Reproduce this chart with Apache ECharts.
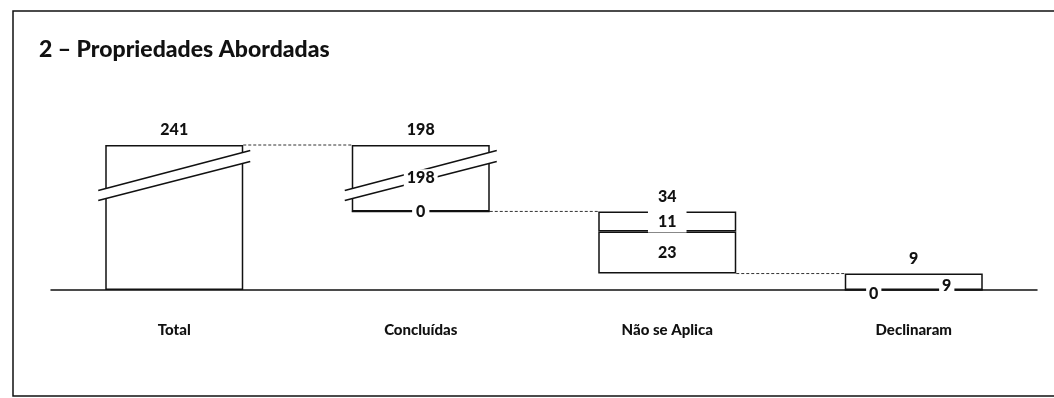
<!doctype html>
<html lang="pt-br">

<head>
	<meta charset="utf-8">
	<script src="https://cdn.jsdelivr.net/npm/echarts@6.0.0/dist/echarts.min.js"></script>
	<style>
		html, body { margin: 0; padding: 0; background: #fff; }
	</style>
</head>

<body>
	<div id="container" style="width:1054px;height:398px;"></div>
	<script>
		// dados
		var categories = ['Total', 'Concluídas', 'Não se Aplica', 'Declinaram'];
		var totals = [241, 198, 34, 9];
		var baseValues = [0, 43, 9, 0];
		var lowerPart = [241, 0, 23, 0];
		var upperPart = ['-', 198, 11, 9];
		// barras cortadas (indice, base, topo, rotulo)
		var brokenBars = [[0, 0, 241, ''], [1, 43, 241, '198']];
		// ligações entre as barras (indice de origem, nivel)
		var connectors = [[0, 241], [1, 43], [2, 9]];

		var font = 'Lato';
		var weight = 900;
		var ink = '#111';
		var halfBar = 69;

		// posição das marcas de corte, em valores do eixo
		var cutLow = [49, 232];
		var cutHigh = [54.5, 238];

		function renderBreak(params, api) {
			var idx = api.value(0);
			var left = api.coord([idx, 0])[0] - halfBar - 7;
			var right = api.coord([idx, 0])[0] + halfBar + 7;
			var lowL = [left, api.coord([idx, cutLow[0]])[1]];
			var lowR = [right, api.coord([idx, cutLow[1]])[1]];
			var highL = [left, api.coord([idx, cutHigh[0]])[1]];
			var highR = [right, api.coord([idx, cutHigh[1]])[1]];
			var children = [
				{
					type: 'polygon',
					shape: { points: [lowL, lowR, highR, highL] },
					style: { fill: '#fff', stroke: null }
				},
				{
					type: 'line',
					shape: { x1: lowL[0], y1: lowL[1], x2: lowR[0], y2: lowR[1] },
					style: { stroke: ink, lineWidth: 1.5 }
				},
				{
					type: 'line',
					shape: { x1: highL[0], y1: highL[1], x2: highR[0], y2: highR[1] },
					style: { stroke: ink, lineWidth: 1.5 }
				}
			];
			var lbl = brokenBars[params.dataIndex][3];
			if (lbl) {
				var yb = api.coord([idx, api.value(1)])[1];
				var yt = api.coord([idx, api.value(2)])[1];
				children.push({
					type: 'text',
					z2: 10,
					style: {
						text: lbl,
						x: api.coord([idx, 0])[0],
						y: (yb + yt) / 2,
						align: 'center',
						verticalAlign: 'middle',
						font: weight + ' 16px ' + font,
						fill: ink,
						backgroundColor: '#fff',
						padding: [1, 3]
					}
				});
			}
			return { type: 'group', children: children };
		}

		function renderConnector(params, api) {
			var idx = api.value(0);
			var v = api.value(1);
			var a = api.coord([idx, v]);
			var b = api.coord([idx + 1, v]);
			return {
				type: 'line',
				shape: { x1: a[0] + halfBar, y1: a[1], x2: b[0] - halfBar, y2: b[1] },
				style: { stroke: '#333', lineWidth: 1, lineDash: [3, 2] }
			};
		}

		var labelBase = {
			show: true,
			fontFamily: font,
			fontWeight: weight,
			fontSize: 16,
			color: ink
		};

		function lowerLabel(i) {
			var l = Object.assign({}, labelBase, { position: 'inside' });
			if (i === 0) { l.show = false; }
			if (i === 1) { l.backgroundColor = '#fff'; l.padding = [0, 4]; }
			if (i === 3) { l.backgroundColor = '#fff'; l.padding = [0, 3]; l.offset = [-40, 4]; }
			return l;
		}

		function upperLabel(i) {
			var l = Object.assign({}, labelBase, { position: 'inside' });
			if (i === 1) { l.show = false; }
			if (i === 2) { l.backgroundColor = '#fff'; l.padding = [3, 10]; }
			if (i === 3) { l.backgroundColor = '#fff'; l.padding = [1, 3]; l.offset = [33, 4]; }
			return l;
		}

		var barStyle = { color: '#fff', borderColor: ink, borderWidth: 1.5 };

		var chart = echarts.init(document.getElementById('container'));
		chart.setOption({
			animation: false,
			title: {
				text: '2 – Propriedades Abordadas',
				left: 34,
				top: 33,
				textStyle: { fontFamily: font, fontSize: 23, fontWeight: weight, color: ink }
			},
			graphic: [{
				type: 'rect',
				shape: { x: 13, y: 11, width: 1060, height: 385 },
				style: { fill: null, stroke: ink, lineWidth: 1.5 }
			}],
			grid: { left: 51, right: 17, top: 145, bottom: 108 },
			xAxis: {
				type: 'category',
				data: categories,
				axisTick: { show: false },
				axisLine: { lineStyle: { color: ink, width: 1.5 } },
				axisLabel: { margin: 33, fontFamily: font, fontWeight: weight, fontSize: 15, color: ink }
			},
			yAxis: {
				type: 'value',
				min: 0,
				max: 241,
				breaks: [{ start: 55, end: 223, gap: '8%' }],
				breakArea: { show: false },
				axisLabel: { show: false },
				axisLine: { show: false },
				axisTick: { show: false },
				splitLine: { show: false }
			},
			series: [
				{
					type: 'bar',
					stack: 'w',
					barWidth: 138,
					silent: true,
					data: baseValues,
					itemStyle: { color: 'transparent' }
				},
				{
					type: 'bar',
					stack: 'w',
					z: 2,
					data: lowerPart.map(function (v, i) {
						return { value: v, label: lowerLabel(i) };
					}),
					itemStyle: barStyle
				},
				{
					type: 'bar',
					stack: 'w',
					z: 2,
					data: upperPart.map(function (v, i) {
						return { value: v, label: upperLabel(i) };
					}),
					itemStyle: barStyle
				},
				{
					type: 'bar',
					stack: 'w',
					z: 2,
					data: totals.map(function () { return 0; }),
					itemStyle: { color: 'transparent', borderWidth: 0 },
					label: Object.assign({}, labelBase, {
						position: 'top',
						distance: 7,
						formatter: function (p) { return String(totals[p.dataIndex]); }
					})
				},
				{
					type: 'custom',
					z: 1,
					silent: true,
					renderItem: renderConnector,
					encode: { x: 0, y: 1 },
					data: connectors
				},
				{
					type: 'custom',
					z: 3,
					silent: true,
					renderItem: renderBreak,
					encode: { x: 0, y: [1, 2] },
					data: brokenBars.map(function (b) { return [b[0], b[1], b[2]]; })
				}
			]
		});
	</script>
</body>

</html>
